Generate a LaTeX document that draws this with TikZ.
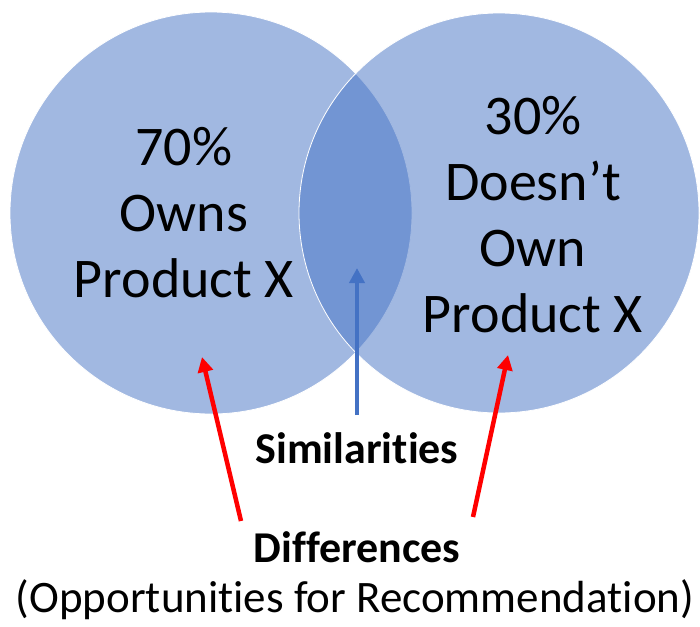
\documentclass[tikz,border=0pt]{standalone}
\usepackage{fontspec}
\setmainfont{Carlito}[Ligatures=NoCommon]
\usetikzlibrary{arrows.meta}
\definecolor{setblue}{RGB}{68,114,196}
\definecolor{arrowred}{RGB}{255,0,0}
\tikzset{font=\fontsize{56}{66}\selectfont}
\tikzset{setcircle/.style={fill=setblue, fill opacity=0.5, draw=white, draw opacity=1, line width=0.8pt}}
\tikzset{pointer/.style={line width=4.5pt, -{Triangle[length=15pt, width=15pt]}}}
\tikzset{caption/.style={font=\fontsize{45}{51}\selectfont, anchor=base}}
\tikzset{boldcaption/.style={font=\fontsize{44}{51}\selectfont\bfseries, anchor=base}}

\begin{document}
\begin{tikzpicture}[x=1pt, y=-1pt]
	\useasboundingbox (0, 0) rectangle (700, 626);
	\begin{scope}
		\tikzstyle{every node}=[align=center, inner sep=0pt]
		\draw[setcircle] (211, 213) circle (201pt);
		\draw[setcircle] (499, 213) circle (200pt);

		\node (owns) at (184, 213) {70\%\\Owns\\Product X};
		\node (notowns) at (533, 215) {30\%\\Doesn’t\\Own\\Product X};

		\node[boldcaption] (similar) at (357, 463) {Similarities};
		\node[boldcaption] (differ) at (357, 562) {Differences};
		\node[caption] (oppor) at (355, 612) {(Opportunities for Recommendation)};

		\coordinate (simtail) at (357, 415);
		\coordinate (simtip) at (357, 268);
		\coordinate (lefttail) at (241, 521);
		\coordinate (lefttip) at (202, 357);
		\coordinate (righttail) at (473, 517);
		\coordinate (righttip) at (508, 355);

		\draw[pointer, setblue] (simtail) -- (simtip);
		\draw[pointer, arrowred] (lefttail) -- (lefttip);
		\draw[pointer, arrowred] (righttail) -- (righttip);

	\end{scope}
\end{tikzpicture}
\end{document}
